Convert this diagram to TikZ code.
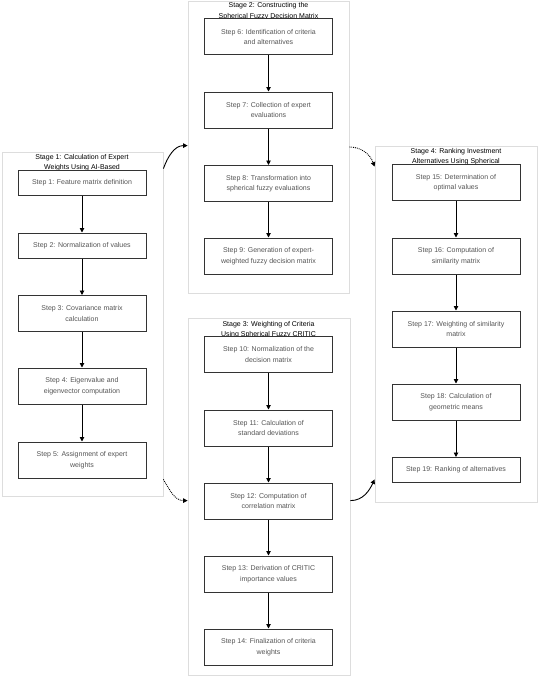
\documentclass[tikz,border=0pt]{standalone}
\usepackage{fontspec}
\setmainfont{Liberation Sans}
\usepackage{tikz}
\usetikzlibrary{arrows.meta}
\definecolor{stepgray}{HTML}{555555}
\definecolor{framegray}{HTML}{DDDDDD}
\definecolor{edgegray}{HTML}{333333}

\begin{document}
\begin{tikzpicture}[x=1pt, y=-1pt, >={Triangle[length=4.5pt,width=4.5pt]},
    stage/.style={draw=framegray, line width=0.8pt, inner sep=0pt},
    title/.style={anchor=base, align=center, font=\fontsize{7}{10.5}\selectfont},
    stepbox/.style={draw=edgegray, line width=1pt, fill=white, text=stepgray, align=center,
        minimum width=128pt, minimum height=36pt, inner sep=0pt, font=\fontsize{7}{10.5}\selectfont},
    oneline/.style={minimum height=25pt},
    flow/.style={->, line width=0.9pt}]
                \useasboundingbox (0,0) rectangle (538,685);
                % stage frames
                \node[stage, minimum width=161pt, minimum height=344pt] (st1) at (82.5,324) {};
                \node[stage, minimum width=161pt, minimum height=292pt] (st2) at (268.5,147) {};
                \node[stage, minimum width=162pt, minimum height=357pt] (st3) at (269,496.5) {};
                \node[stage, minimum width=162pt, minimum height=356pt] (st4) at (456,324) {};
                % stage titles
                \node[title] (t1) at (82,169.5) {Stage 1: Calculation of Expert\\Weights Using AI-Based};
                \node[title] (t2) at (268.5,18.5) {Stage 2: Constructing the\\Spherical Fuzzy Decision Matrix};
                \node[title] (t3) at (268.5,336.5) {Stage 3: Weighting of Criteria\\Using Spherical Fuzzy CRITIC};
                \node[title] (t4) at (456,163.5) {Stage 4: Ranking Investment\\Alternatives Using Spherical};
                % stage 1
                \node[stepbox, oneline] (s1) at (82,182.5) {Step 1: Feature matrix definition};
                \node[stepbox, oneline] (s2) at (82,245.5) {Step 2: Normalization of values};
                \node[stepbox] (s3) at (82,313.5) {Step 3: Covariance matrix\\calculation};
                \node[stepbox] (s4) at (82,386) {Step 4: Eigenvalue and\\eigenvector computation};
                \node[stepbox] (s5) at (82,460) {Step 5: Assignment of expert\\weights};
                % stage 2
                \node[stepbox] (s6) at (268.5,37) {Step 6: Identification of criteria\\and alternatives};
                \node[stepbox] (s7) at (268.5,110) {Step 7: Collection of expert\\evaluations};
                \node[stepbox] (s8) at (268.5,183.5) {Step 8: Transformation into\\spherical fuzzy evaluations};
                \node[stepbox] (s9) at (268.5,256) {Step 9: Generation of expert-\\weighted fuzzy decision matrix};
                % stage 3
                \node[stepbox] (s10) at (268.5,354.5) {Step 10: Normalization of the\\decision matrix};
                \node[stepbox] (s11) at (268.5,428) {Step 11: Calculation of\\standard deviations};
                \node[stepbox] (s12) at (268.5,501) {Step 12: Computation of\\correlation matrix};
                \node[stepbox] (s13) at (268.5,574) {Step 13: Derivation of CRITIC\\importance values};
                \node[stepbox] (s14) at (268.5,647) {Step 14: Finalization of criteria\\weights};
                % stage 4
                \node[stepbox] (s15) at (456,182.5) {Step 15: Determination of\\optimal values};
                \node[stepbox] (s16) at (456,256) {Step 16: Computation of\\similarity matrix};
                \node[stepbox] (s17) at (456,329) {Step 17: Weighting of similarity\\matrix};
                \node[stepbox] (s18) at (456,402) {Step 18: Calculation of\\geometric means};
                \node[stepbox, oneline] (s19) at (456,470) {Step 19: Ranking of alternatives};
                % steps inside stages
                \foreach \a/\b in {s1/s2, s2/s3, s3/s4, s4/s5, s6/s7, s7/s8, s8/s9,
                    s10/s11, s11/s12, s12/s13, s13/s14, s15/s16, s16/s17, s17/s18, s18/s19}
                    \draw[flow] (\a) -- (\b);
                % links between stages
                \draw[flow] ([yshift=-17pt]st1.north east) to[out=70, in=180] ([yshift=-145pt]st2.north west);
                \draw[flow, densely dotted] (st2.east) to[out=0, in=110] ([yshift=-21pt]st4.north west);
                \draw[flow, densely dotted] ([yshift=17pt]st1.south east) to[out=-60, in=180] ([yshift=-183pt]st3.north west);
                \draw[flow] ([yshift=-183pt]st3.north east) to[out=0, in=-115] ([yshift=23pt]st4.south west);
            \end{tikzpicture}
\end{document}
